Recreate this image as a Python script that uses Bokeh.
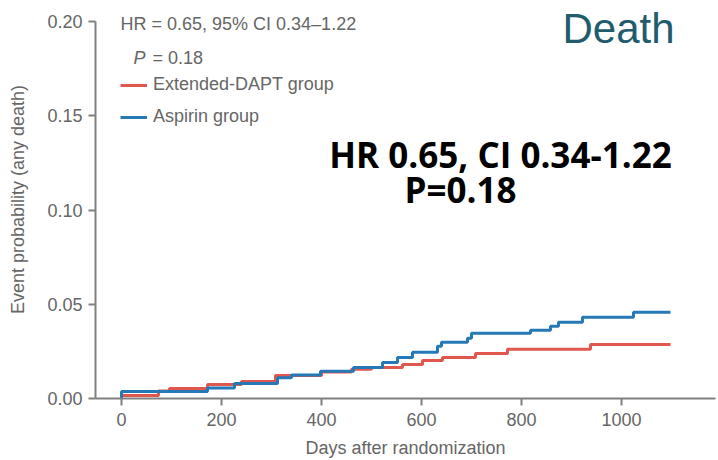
from bokeh.plotting import figure
from bokeh.models import Range1d, Label, Legend, LegendItem, FixedTicker
from bokeh.embed import file_html
from bokeh.resources import INLINE

# ---- data ----
aspirin_days = [0, 0, 172, 226, 312, 340, 398, 464, 522, 552, 582, 632, 640, 692, 700, 818, 858, 874, 922, 1024, 1098]
aspirin_prob = [0, 0.0037, 0.0056, 0.0080, 0.0110, 0.0125, 0.0144, 0.0165, 0.0191, 0.0218, 0.0245, 0.0277, 0.0298,
                0.0319, 0.0346, 0.0362, 0.0383, 0.0404, 0.0431, 0.0457, 0.0457]

dapt_days = [0, 0, 74, 96, 172, 240, 308, 400, 460, 500, 562, 602, 642, 708, 772, 938, 1098]
dapt_prob = [0, 0.0016, 0.0040, 0.0053, 0.0074, 0.0090, 0.0122, 0.0140, 0.0155, 0.0165, 0.0181, 0.0202, 0.0218,
             0.0239, 0.0261, 0.0287, 0.0287]

x_ticks = [0, 200, 400, 600, 800, 1000]
y_ticks = [0.0, 0.05, 0.10, 0.15, 0.20]
y_tick_labels = {0.0: "0.00", 0.05: "0.05", 0.1: "0.10", 0.15: "0.15", 0.2: "0.20"}

series_names = ["Extended-DAPT group", "Aspirin group"]
hr_text = "HR = 0.65, 95% CI 0.34\u20131.22"
p_text = "= 0.18"
title_text = "Death"
big_line1 = "HR 0.65, CI 0.34-1.22"
big_line2 = "P=0.18"

RED = "#e0574e"
BLUE = "#2479b6"
GREY_TEXT = "#666666"
AXIS = "#808080"
FONT = "Liberation Sans"
FS = "18px"

p = figure(width=718, height=460, output_backend="svg", toolbar_location=None,
           x_range=Range1d(-52, 1188), y_range=Range1d(0, 0.20 + 21 / 1885),
           min_border_left=95, min_border_right=3, min_border_top=0, min_border_bottom=62)
p.outline_line_color = None
p.xgrid.visible = False
p.ygrid.visible = False
p.background_fill_color = "white"
p.border_fill_color = "white"

r_red = p.step(dapt_days, dapt_prob, mode="after", line_color=RED, line_width=3)
r_blue = p.step(aspirin_days, aspirin_prob, mode="after", line_color=BLUE, line_width=3)

# axes
xa = p.xaxis[0]
xa.ticker = FixedTicker(ticks=x_ticks)
xa.axis_label = "Days after randomization"
ya = p.yaxis[0]
ya.ticker = FixedTicker(ticks=y_ticks)
ya.major_label_overrides = y_tick_labels
ya.axis_label = "Event probability (any death)"
ya.bounds = (0, 0.20)
for ax in (xa, ya):
    ax.axis_line_color = AXIS
    ax.axis_line_width = 2
    ax.major_tick_line_color = AXIS
    ax.major_tick_line_width = 2
    ax.major_tick_in = 0
    ax.major_tick_out = 7
    ax.minor_tick_line_color = None
    ax.major_label_text_font = FONT
    ax.major_label_text_font_size = FS
    ax.major_label_text_color = GREY_TEXT
    ax.axis_label_text_font = FONT
    ax.axis_label_text_font_size = FS
    ax.axis_label_text_font_style = "normal"
    ax.axis_label_text_color = GREY_TEXT
xa.major_label_standoff = 7
xa.axis_label_standoff = 9
ya.major_label_standoff = 6
ya.axis_label_standoff = 16

# legend
legend = Legend(items=[LegendItem(label=series_names[0], renderers=[r_red]),
                       LegendItem(label=series_names[1], renderers=[r_blue])],
                location=(25, 271), orientation="vertical",
                glyph_width=27, glyph_height=20, label_height=20, spacing=11,
                label_standoff=6, padding=0, margin=0,
                border_line_color=None, background_fill_alpha=0,
                label_text_font=FONT, label_text_font_size=FS, label_text_color=GREY_TEXT)
p.add_layout(legend)

# annotation texts
p.add_layout(Label(x=-2, y=0.1985, text=hr_text, text_font=FONT, text_font_size=FS,
                   text_color=GREY_TEXT, text_baseline="middle"))
p.add_layout(Label(x=24, y=0.1808, text="P", text_font=FONT, text_font_size=FS,
                   text_font_style="italic", text_color=GREY_TEXT, text_baseline="middle"))
p.add_layout(Label(x=62, y=0.1808, text=p_text, text_font=FONT, text_font_size=FS,
                   text_color=GREY_TEXT, text_baseline="middle"))
p.add_layout(Label(x=882, y=0.1963, text=title_text, text_font=FONT, text_font_size="42px",
                   text_color="#215c6d", text_baseline="alphabetic"))
p.add_layout(Label(x=758, y=0.1294, text=big_line1, text_font="Open Sans", text_font_size="35px",
                   text_font_style="bold", text_color="black", text_align="center",
                   text_baseline="alphabetic"))
p.add_layout(Label(x=678, y=0.1107, text=big_line2, text_font="Open Sans", text_font_size="35px",
                   text_font_style="bold", text_color="black", text_align="center",
                   text_baseline="alphabetic"))

open("out.html", "w").write(file_html(p, INLINE))
